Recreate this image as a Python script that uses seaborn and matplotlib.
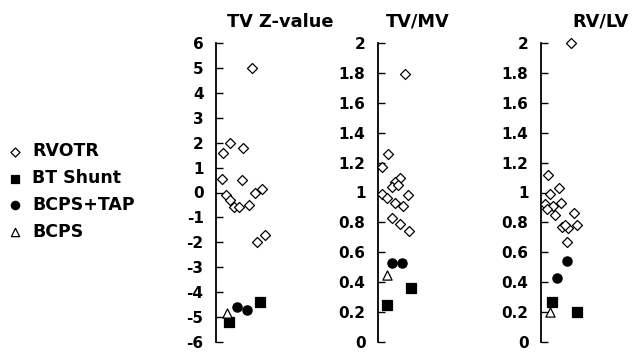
import numpy as np
import pandas as pd
import seaborn as sns
import matplotlib
matplotlib.use("Agg")
import matplotlib.pyplot as plt

# ---------------- data ----------------
groups = ["RVOTR", "BT Shunt", "BCPS+TAP", "BCPS"]
panels = ["TV Z-value", "TV/MV", "RV/LV"]

# TV Z-value
tvz_rvotr = [5.0, 2.0, 1.6, 1.8, 0.55, 0.5, 0.15, 0.0, -0.1, -0.3, -0.6, -0.6, -0.5, -1.7, -2.0]
tvz_rvotr_pos = [36, 14, 7, 27, 6, 26, 46, 39, 10, 14, 18, 23, 33, 49, 41]
tvz_bt = [-5.2, -4.4]
tvz_bt_pos = [13, 44]
tvz_tap = [-4.6, -4.7]
tvz_tap_pos = [21, 31]
tvz_bcps = [-4.85]
tvz_bcps_pos = [11]

# TV/MV
tvmv_rvotr = [1.79, 1.26, 1.17, 1.10, 1.07, 1.04, 1.05, 0.99, 0.96, 0.98, 0.93, 0.91, 0.83, 0.79, 0.74]
tvmv_rvotr_pos = [27, 10, 4, 22, 17, 14, 20, 4, 9, 30, 17, 25, 14, 22, 31]
tvmv_bt = [0.25, 0.36]
tvmv_bt_pos = [9, 33]
tvmv_tap = [0.53, 0.53]
tvmv_tap_pos = [14, 24]
tvmv_bcps = [0.45]
tvmv_bcps_pos = [9]

# RV/LV
rvlv_rvotr = [2.0, 1.12, 1.03, 0.99, 0.93, 0.92, 0.91, 0.89, 0.85, 0.86, 0.77, 0.76, 0.78, 0.78, 0.67]
rvlv_rvotr_pos = [30, 7, 18, 9, 20, 4, 12, 6, 14, 33, 21, 27, 36, 24, 26]
rvlv_bt = [0.27, 0.20]
rvlv_bt_pos = [11, 36]
rvlv_tap = [0.54, 0.43]
rvlv_tap_pos = [26, 16]
rvlv_bcps = [0.20]
rvlv_bcps_pos = [9]

panel_data = {
    "TV Z-value": {"RVOTR": (tvz_rvotr, tvz_rvotr_pos), "BT Shunt": (tvz_bt, tvz_bt_pos),
                   "BCPS+TAP": (tvz_tap, tvz_tap_pos), "BCPS": (tvz_bcps, tvz_bcps_pos)},
    "TV/MV": {"RVOTR": (tvmv_rvotr, tvmv_rvotr_pos), "BT Shunt": (tvmv_bt, tvmv_bt_pos),
              "BCPS+TAP": (tvmv_tap, tvmv_tap_pos), "BCPS": (tvmv_bcps, tvmv_bcps_pos)},
    "RV/LV": {"RVOTR": (rvlv_rvotr, rvlv_rvotr_pos), "BT Shunt": (rvlv_bt, rvlv_bt_pos),
              "BCPS+TAP": (rvlv_tap, rvlv_tap_pos), "BCPS": (rvlv_bcps, rvlv_bcps_pos)},
}

rows = []
for p in panels:
    for g in groups:
        vals, pos = panel_data[p][g]
        for v, x in zip(vals, pos):
            rows.append({"panel": p, "group": g, "value": v, "pos": x})
df = pd.DataFrame(rows)

# ---------------- style ----------------
sns.set_style("white")
plt.rcParams["font.family"] = ["DejaVu Sans"]
plt.rcParams["font.weight"] = "bold"
plt.rcParams["axes.unicode_minus"] = False
for k in ["text.color", "axes.labelcolor", "xtick.color", "ytick.color", "axes.edgecolor"]:
    plt.rcParams[k] = "black"

styles = {
    "RVOTR": dict(marker="D", color="white", s=26),
    "BT Shunt": dict(marker="s", color="black", s=42),
    "BCPS+TAP": dict(marker="o", color="black", s=44),
    "BCPS": dict(marker="^", color="white", s=44),
}

W, H = 632, 352
fig = plt.figure(figsize=(W / 100, H / 100), dpi=100)

axis_px = {"TV Z-value": 216, "TV/MV": 378, "RV/LV": 541}
title_px = {"TV Z-value": 280, "TV/MV": 418, "RV/LV": 601}
ylims = {"TV Z-value": (-6, 6), "TV/MV": (0, 2), "RV/LV": (0, 2)}
yticks = {"TV Z-value": np.arange(-6, 7, 1), "TV/MV": np.linspace(0, 2, 11), "RV/LV": np.linspace(0, 2, 11)}

top_px, bot_px = 43, 342
width_px = 70
handles = None
for p in panels:
    ax = fig.add_axes([axis_px[p] / W, 1 - bot_px / H, width_px / W, (bot_px - top_px) / H])
    ax.set_facecolor("none")
    sub = df[df["panel"] == p]
    for g in groups:
        st = styles[g]
        sns.scatterplot(data=sub[sub["group"] == g], x="pos", y="value", ax=ax,
                        marker=st["marker"], color=st["color"], s=st["s"],
                        edgecolor="black", linewidth=0.9, legend=False, label=g,
                        zorder=3, clip_on=False)
    ax.set_xlim(0, width_px)
    ax.set_ylim(*ylims[p])
    ax.set_yticks(yticks[p])
    ax.set_yticklabels([f"{v:g}" for v in yticks[p]])
    ax.set_xticks([])
    ax.set_xlabel("")
    ax.set_ylabel("")
    for s in ["top", "right", "bottom"]:
        ax.spines[s].set_visible(False)
    ax.spines["left"].set_color("black")
    ax.spines["left"].set_linewidth(1.3)
    ax.tick_params(axis="y", direction="in", length=5, width=1.0, color="black",
                   labelsize=11, labelcolor="black", pad=9, left=True)
    for lab in ax.get_yticklabels():
        lab.set_fontweight("bold")
    fig.text(title_px[p] / W, 1 - 22 / H, p, ha="center", va="center",
             fontsize=12.8, fontweight="bold", color="black")
    if handles is None:
        handles, labels = ax.get_legend_handles_labels()

leg = fig.legend(handles, labels, loc="center left", bbox_to_anchor=(8 / W, 1 - 191.5 / H),
                 frameon=False, prop={"size": 12.5, "weight": "bold"}, markerscale=0.9,
                 handlelength=0.8, handletextpad=0.6, labelspacing=0.5,
                 borderpad=0, borderaxespad=0)
for t in leg.get_texts():
    t.set_color("black")

fig.savefig("out.png", dpi=100)
